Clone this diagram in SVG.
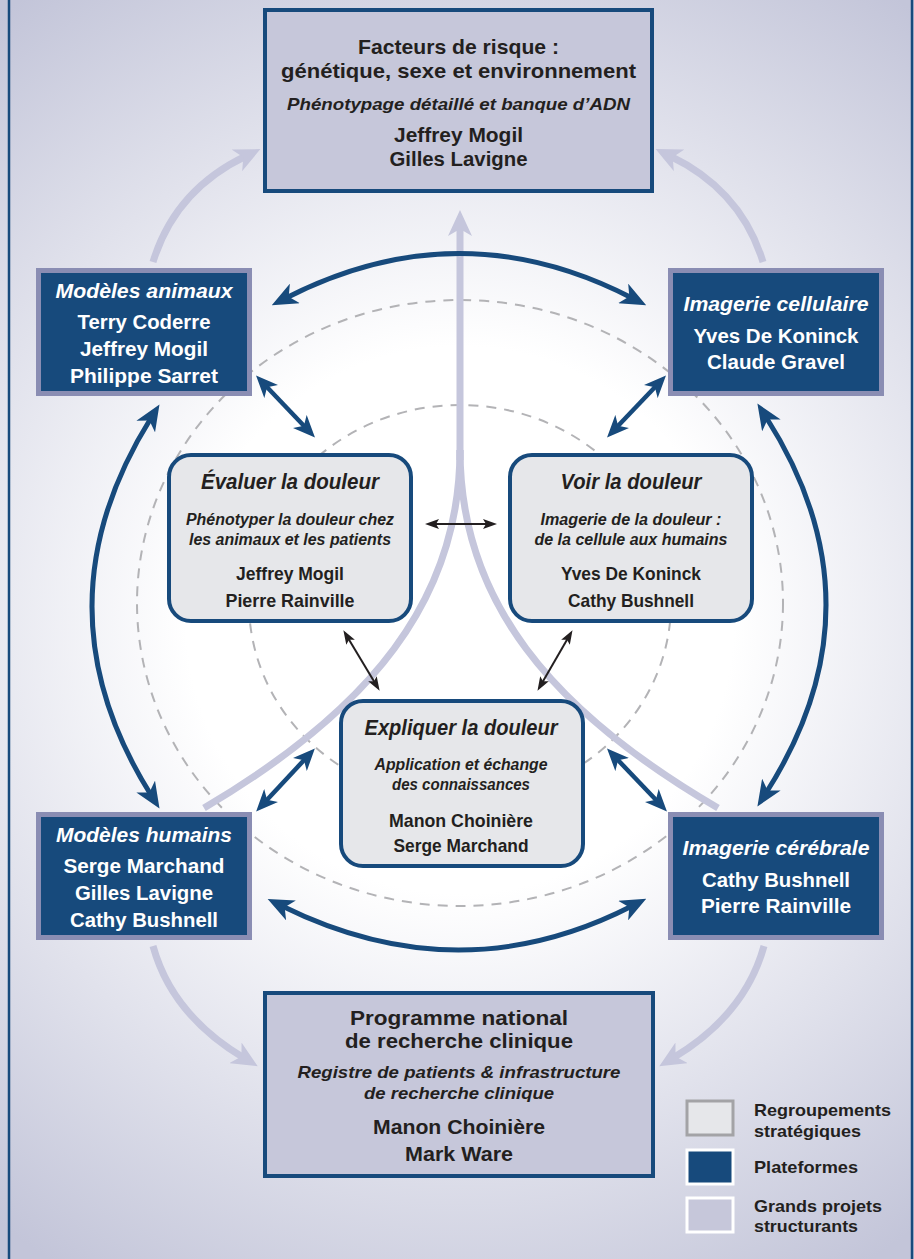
<svg xmlns="http://www.w3.org/2000/svg" width="914" height="1259" viewBox="0 0 914 1259">
<defs>
<radialGradient id="bg" gradientUnits="userSpaceOnUse" cx="460" cy="620" r="760">
<stop offset="0" stop-color="#ffffff"/>
<stop offset="0.36" stop-color="#ffffff"/>
<stop offset="1" stop-color="#c3c5d9"/>
</radialGradient>
<marker id="mb" viewBox="0 0 26 22" refX="10" refY="11" markerWidth="26" markerHeight="22" markerUnits="userSpaceOnUse" orient="auto-start-reverse">
<path d="M0,0 L26,11 L0,22 L7,11 Z" fill="#174a7c"/>
</marker>
<marker id="ms" viewBox="0 0 22 19" refX="9" refY="9.5" markerWidth="22" markerHeight="19" markerUnits="userSpaceOnUse" orient="auto-start-reverse">
<path d="M0,0 L22,9.5 L0,19 L6,9.5 Z" fill="#174a7c"/>
</marker>
<marker id="mk" viewBox="0 0 14 10" refX="5" refY="5" markerWidth="14" markerHeight="10" markerUnits="userSpaceOnUse" orient="auto-start-reverse">
<path d="M0,0 L14,5 L0,10 L3,5 Z" fill="#231f20"/>
</marker>
<marker id="ml" viewBox="0 0 26 24" refX="10" refY="12" markerWidth="26" markerHeight="24" markerUnits="userSpaceOnUse" orient="auto-start-reverse">
<path d="M0,0 L26,12 L0,24 L7,12 Z" fill="#c5c6dc"/>
</marker>
</defs>
<style>
text{font-family:"Liberation Sans",Arial,sans-serif;text-anchor:middle;font-weight:700;fill:#231f20}
.w{fill:#ffffff}
.i{font-style:italic}
.lg{text-anchor:start;font-size:17px}
.gp{fill:#c6c7da;stroke:#174a7c;stroke-width:4}
.pf{fill:#174a7c;stroke:#8a8db3;stroke-width:5}
.rs{fill:#e6e7ea;stroke:#174a7c;stroke-width:4}
.dash{fill:none;stroke:#b3b3b6;stroke-width:2;stroke-dasharray:10 8}
.lav{fill:none;stroke:#c5c6dc;stroke-width:7}
.blu{fill:none;stroke:#174a7c;stroke-width:5}
.bls{fill:none;stroke:#174a7c;stroke-width:4.5}
.blk{fill:none;stroke:#231f20;stroke-width:2}
</style>
<rect x="0" y="0" width="914" height="1259" fill="url(#bg)"/>
<line x1="9" y1="0" x2="9" y2="1259" stroke="#174a7c" stroke-width="2.5"/>
<line x1="912" y1="0" x2="912" y2="1259" stroke="#174a7c" stroke-width="2.5"/>

<g id="guides">
<ellipse class="dash" cx="460" cy="603" rx="323" ry="303"/>
<ellipse class="dash" cx="460" cy="603" rx="211" ry="198"/>
</g>

<g id="connectors">
<path class="lav" d="M153,262 Q175,190 246,156" marker-end="url(#ml)"/>
<path class="lav" d="M763,262 Q741,190 670,156" marker-end="url(#ml)"/>
<path class="lav" d="M153,946 Q172,1015 244,1058" marker-end="url(#ml)"/>
<path class="lav" d="M764,946 Q745,1015 673,1058" marker-end="url(#ml)"/>
<path class="lav" d="M460,460 L460,226" marker-end="url(#ml)"/>
<path class="lav" d="M460,450 C460,600 370,710 204,808"/>
<path class="lav" d="M460,450 C460,600 550,710 718,808"/>

<path class="blu" d="M286,298 Q460,209 632,298" marker-start="url(#mb)" marker-end="url(#mb)"/>
<path class="blu" d="M282,906 Q460,994 632,906" marker-start="url(#mb)" marker-end="url(#mb)"/>
<path class="blu" d="M151,418 Q33,607 151,795" marker-start="url(#mb)" marker-end="url(#mb)"/>
<path class="blu" d="M766,417 Q886,605 766,793" marker-start="url(#mb)" marker-end="url(#mb)"/>

<path class="bls" d="M265,385 L306,428" marker-start="url(#ms)" marker-end="url(#ms)"/>
<path class="bls" d="M657,385 L616,428" marker-start="url(#ms)" marker-end="url(#ms)"/>
<path class="bls" d="M306,758 L265,802" marker-start="url(#ms)" marker-end="url(#ms)"/>
<path class="bls" d="M616,758 L658,802" marker-start="url(#ms)" marker-end="url(#ms)"/>

<path class="blk" d="M434,524 L488,524" marker-start="url(#mk)" marker-end="url(#mk)"/>
<path class="blk" d="M348,638 L375,683" marker-start="url(#mk)" marker-end="url(#mk)"/>
<path class="blk" d="M568,638 L542,683" marker-start="url(#mk)" marker-end="url(#mk)"/>
</g>

<g id="facteurs">
<rect class="gp" x="265" y="10" width="387" height="181"/>
<text x="458.5" y="54" font-size="21" textLength="201" lengthAdjust="spacingAndGlyphs">Facteurs de risque :</text>
<text x="458.5" y="78" font-size="21" textLength="355" lengthAdjust="spacingAndGlyphs">génétique, sexe et environnement</text>
<text class="i" x="458.5" y="110" font-size="17" textLength="343" lengthAdjust="spacingAndGlyphs">Phénotypage détaillé et banque d’ADN</text>
<text x="458.5" y="142" font-size="20" textLength="129" lengthAdjust="spacingAndGlyphs">Jeffrey Mogil</text>
<text x="458.5" y="166" font-size="20" textLength="138" lengthAdjust="spacingAndGlyphs">Gilles Lavigne</text>
</g>

<g id="modeles-animaux">
<rect class="pf" x="38.5" y="270.5" width="211" height="123"/>
<text class="w i" x="144" y="298" font-size="20" textLength="177" lengthAdjust="spacingAndGlyphs">Modèles animaux</text>
<text class="w" x="144" y="329" font-size="20" textLength="133" lengthAdjust="spacingAndGlyphs">Terry Coderre</text>
<text class="w" x="144" y="356" font-size="20" textLength="128" lengthAdjust="spacingAndGlyphs">Jeffrey Mogil</text>
<text class="w" x="144" y="383" font-size="20" textLength="148" lengthAdjust="spacingAndGlyphs">Philippe Sarret</text>
</g>

<g id="imagerie-cellulaire">
<rect class="pf" x="670.5" y="270.5" width="211" height="123"/>
<text class="w i" x="776" y="311" font-size="20" textLength="185" lengthAdjust="spacingAndGlyphs">Imagerie cellulaire</text>
<text class="w" x="776" y="343" font-size="20" textLength="165" lengthAdjust="spacingAndGlyphs">Yves De Koninck</text>
<text class="w" x="776" y="369" font-size="20" textLength="138" lengthAdjust="spacingAndGlyphs">Claude Gravel</text>
</g>

<g id="modeles-humains">
<rect class="pf" x="38.5" y="814.5" width="211" height="123"/>
<text class="w i" x="144" y="842" font-size="20" textLength="176" lengthAdjust="spacingAndGlyphs">Modèles humains</text>
<text class="w" x="144" y="873" font-size="20" textLength="161" lengthAdjust="spacingAndGlyphs">Serge Marchand</text>
<text class="w" x="144" y="900" font-size="20" textLength="138" lengthAdjust="spacingAndGlyphs">Gilles Lavigne</text>
<text class="w" x="144" y="927" font-size="20" textLength="148" lengthAdjust="spacingAndGlyphs">Cathy Bushnell</text>
</g>

<g id="imagerie-cerebrale">
<rect class="pf" x="670.5" y="814.5" width="211" height="123"/>
<text class="w i" x="776" y="855" font-size="20" textLength="187" lengthAdjust="spacingAndGlyphs">Imagerie cérébrale</text>
<text class="w" x="776" y="887" font-size="20" textLength="148" lengthAdjust="spacingAndGlyphs">Cathy Bushnell</text>
<text class="w" x="776" y="913" font-size="20" textLength="150" lengthAdjust="spacingAndGlyphs">Pierre Rainville</text>
</g>

<g id="evaluer">
<rect class="rs" x="169" y="455" width="242" height="166" rx="22"/>
<text class="i" x="290" y="489" font-size="22" textLength="178" lengthAdjust="spacingAndGlyphs">Évaluer la douleur</text>
<text class="i" x="290" y="525" font-size="16" textLength="208" lengthAdjust="spacingAndGlyphs">Phénotyper la douleur chez</text>
<text class="i" x="290" y="545" font-size="16" textLength="202" lengthAdjust="spacingAndGlyphs">les animaux et les patients</text>
<text x="290" y="580" font-size="19" textLength="108" lengthAdjust="spacingAndGlyphs">Jeffrey Mogil</text>
<text x="290" y="607" font-size="19" textLength="129" lengthAdjust="spacingAndGlyphs">Pierre Rainville</text>
</g>

<g id="voir">
<rect class="rs" x="510" y="455" width="242" height="166" rx="22"/>
<text class="i" x="631" y="489" font-size="22" textLength="141" lengthAdjust="spacingAndGlyphs">Voir la douleur</text>
<text class="i" x="631" y="525" font-size="16" textLength="181" lengthAdjust="spacingAndGlyphs">Imagerie de la douleur :</text>
<text class="i" x="631" y="545" font-size="16" textLength="193" lengthAdjust="spacingAndGlyphs">de la cellule aux humains</text>
<text x="631" y="580" font-size="19" textLength="140" lengthAdjust="spacingAndGlyphs">Yves De Koninck</text>
<text x="631" y="607" font-size="19" textLength="126" lengthAdjust="spacingAndGlyphs">Cathy Bushnell</text>
</g>

<g id="expliquer">
<rect class="rs" x="341" y="701" width="242" height="165" rx="22"/>
<text class="i" x="461" y="735" font-size="22" textLength="193" lengthAdjust="spacingAndGlyphs">Expliquer la douleur</text>
<text class="i" x="461" y="770" font-size="16" textLength="173" lengthAdjust="spacingAndGlyphs">Application et échange</text>
<text class="i" x="461" y="790" font-size="16" textLength="138" lengthAdjust="spacingAndGlyphs">des connaissances</text>
<text x="461" y="827" font-size="19" textLength="144" lengthAdjust="spacingAndGlyphs">Manon Choinière</text>
<text x="461" y="852" font-size="19" textLength="135" lengthAdjust="spacingAndGlyphs">Serge Marchand</text>
</g>

<g id="programme">
<rect class="gp" x="265" y="993" width="388" height="183"/>
<text x="459" y="1025" font-size="20" textLength="218" lengthAdjust="spacingAndGlyphs">Programme national</text>
<text x="459" y="1048" font-size="20" textLength="228" lengthAdjust="spacingAndGlyphs">de recherche clinique</text>
<text class="i" x="459" y="1078" font-size="17" textLength="323" lengthAdjust="spacingAndGlyphs">Registre de patients &amp; infrastructure</text>
<text class="i" x="459" y="1099" font-size="17" textLength="190" lengthAdjust="spacingAndGlyphs">de recherche clinique</text>
<text x="459" y="1134" font-size="20" textLength="172" lengthAdjust="spacingAndGlyphs">Manon Choinière</text>
<text x="459" y="1161" font-size="20" textLength="108" lengthAdjust="spacingAndGlyphs">Mark Ware</text>
</g>

<g id="legend">
<rect x="687" y="1101" width="46" height="34" fill="#e6e7ea" stroke="#a3a3a6" stroke-width="3"/>
<rect x="687" y="1150" width="46" height="34" fill="#174a7c" stroke="#ffffff" stroke-width="3"/>
<rect x="687" y="1198" width="46" height="34" fill="#c6c7da" stroke="#ffffff" stroke-width="3"/>
<text class="lg" x="754" y="1116" textLength="137" lengthAdjust="spacingAndGlyphs">Regroupements</text>
<text class="lg" x="754" y="1137" textLength="107" lengthAdjust="spacingAndGlyphs">stratégiques</text>
<text class="lg" x="754" y="1173" textLength="104" lengthAdjust="spacingAndGlyphs">Plateformes</text>
<text class="lg" x="754" y="1212" textLength="128" lengthAdjust="spacingAndGlyphs">Grands projets</text>
<text class="lg" x="754" y="1232" textLength="104" lengthAdjust="spacingAndGlyphs">structurants</text>
</g>
</svg>
